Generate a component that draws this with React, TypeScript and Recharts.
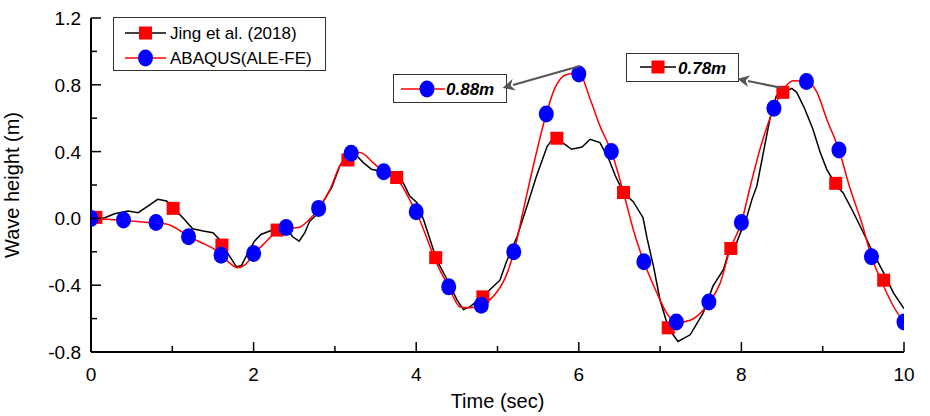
import React from 'react'
import {
  ComposedChart, Line, Scatter, XAxis, YAxis,
} from 'recharts'

// ─── Data ────────────────────────────────────────────────────────────────────
// Jing et al. (2018): dense black trace
const jingT = [
  0, 0.086, 0.17, 0.29, 0.455, 0.58, 0.7, 0.82, 0.93, 1.03, 1.15, 1.25, 1.38, 1.5, 1.58,
  1.69, 1.79, 1.85, 1.93, 2.01, 2.09, 2.2, 2.3, 2.42, 2.48, 2.56, 2.63, 2.69, 2.78, 2.86,
  2.96, 3.06, 3.15, 3.25, 3.35, 3.45, 3.55, 3.68, 3.84, 3.92, 4.01, 4.09, 4.17, 4.25, 4.38,
  4.5, 4.58, 4.66, 4.82, 5.03, 5.11, 5.24, 5.38, 5.48, 5.61, 5.67, 5.81, 5.91, 6.04, 6.14,
  6.26, 6.37, 6.45, 6.55, 6.67, 6.79, 6.84, 6.92, 7.0, 7.08, 7.12, 7.22, 7.37, 7.53, 7.65,
  7.78, 7.84, 7.94, 8.07, 8.13, 8.19, 8.27, 8.35, 8.43, 8.62, 8.68, 8.78, 8.88, 8.97, 9.05,
  9.17, 9.25, 9.38, 9.5, 9.62, 9.75, 9.87, 10,
]
const jingV = [
  0, -0.002, 0.004, 0.028, 0.044, 0.034, 0.074, 0.114, 0.104, 0.054, -0.006, -0.062, -0.076, -0.086, -0.126,
  -0.216, -0.29, -0.282, -0.206, -0.136, -0.096, -0.076, -0.066, -0.07, -0.11, -0.136, -0.086, -0.016, 0.024, 0.104,
  0.184, 0.314, 0.374, 0.384, 0.334, 0.294, 0.284, 0.254, 0.214, 0.134, 0.094, -0.006, -0.126, -0.246, -0.366,
  -0.486, -0.546, -0.53, -0.467, -0.37, -0.26, -0.11, 0.1, 0.254, 0.43, 0.47, 0.45, 0.414, 0.427, 0.474,
  0.454, 0.354, 0.254, 0.154, 0.1, 0.004, -0.12, -0.29, -0.49, -0.62, -0.67, -0.737, -0.697, -0.566, -0.406,
  -0.306, -0.206, -0.146, 0.014, 0.114, 0.194, 0.394, 0.594, 0.734, 0.779, 0.755, 0.655, 0.534, 0.394, 0.294,
  0.194, 0.154, 0.034, -0.086, -0.206, -0.326, -0.446, -0.54,
]
// Jing et al. (2018): square markers
const jingMarkT = [0.06, 1.01, 1.61, 2.29, 3.16, 3.76, 4.24, 4.82, 5.73, 6.55, 7.1, 7.87, 8.51, 9.16, 9.75]
const jingMarkV = [0.006, 0.06, -0.16, -0.07, 0.35, 0.245, -0.235, -0.47, 0.48, 0.155, -0.655, -0.18, 0.755, 0.21, -0.37]

// ABAQUS(ALE-FE): smooth red trace
const abaqusT = [
  0, 0.2, 0.4, 0.6, 0.8, 0.95, 1.07, 1.2, 1.36, 1.52, 1.6, 1.7, 1.8, 1.9, 2.0, 2.14, 2.26,
  2.4, 2.55, 2.68, 2.8, 2.94, 3.06, 3.2, 3.31, 3.47, 3.6, 3.8, 3.96, 4.0, 4.09, 4.25, 4.4,
  4.54, 4.66, 4.8, 4.95, 5.1, 5.2, 5.32, 5.44, 5.6, 5.7, 5.85, 6.0, 6.14, 6.26, 6.4, 6.55,
  6.67, 6.8, 6.96, 7.08, 7.2, 7.37, 7.6, 7.74, 7.86, 8.0, 8.11, 8.24, 8.4, 8.52, 8.64, 8.8,
  8.93, 9.05, 9.2, 9.34, 9.48, 9.6, 9.75, 9.87, 10,
]
const abaqusV = [
  0, -0.005, -0.012, -0.02, -0.028, -0.036, -0.066, -0.108, -0.146, -0.186, -0.22, -0.265, -0.295, -0.275, -0.215, -0.146, -0.09,
  -0.06, -0.055, -0.01, 0.06, 0.174, 0.314, 0.394, 0.394, 0.334, 0.276, 0.214, 0.074, 0.04, -0.066, -0.266, -0.41,
  -0.53, -0.535, -0.52, -0.466, -0.35, -0.205, 0.054, 0.314, 0.625, 0.774, 0.862, 0.87, 0.714, 0.554, 0.4, 0.154,
  -0.066, -0.26, -0.446, -0.566, -0.625, -0.61, -0.505, -0.386, -0.186, -0.025, 0.194, 0.434, 0.66, 0.774, 0.824, 0.82,
  0.755, 0.594, 0.41, 0.174, -0.026, -0.23, -0.406, -0.526, -0.625,
]
// ABAQUS(ALE-FE): circle markers every 0.4 s
const abaqusMarkT = [0, 0.4, 0.8, 1.2, 1.6, 2.0, 2.4, 2.8, 3.2, 3.6, 4.0, 4.4, 4.8, 5.2, 5.6, 6.0, 6.4, 6.8, 7.2, 7.6, 8.0, 8.4, 8.8, 9.2, 9.6, 10]
const abaqusMarkV = [0, -0.01, -0.025, -0.11, -0.22, -0.21, -0.055, 0.06, 0.39, 0.28, 0.04, -0.41, -0.52, -0.2, 0.625, 0.865, 0.4, -0.26, -0.62, -0.5, -0.025, 0.66, 0.82, 0.41, -0.23, -0.62]

const xTicks = [0, 1, 2, 3, 4, 5, 6, 7, 8, 9, 10]
const yTicks = [-0.8, -0.6, -0.4, -0.2, 0, 0.2, 0.4, 0.6, 0.8, 1.0, 1.2]

const zip = (ts: number[], vs: number[]) => ts.map((t, i) => ({ t, v: vs[i] }))
const jingLine = zip(jingT, jingV)
const jingMarks = zip(jingMarkT, jingMarkV)
const abaqusLine = zip(abaqusT, abaqusV)
const abaqusMarks = zip(abaqusMarkT, abaqusMarkV)

// ─── Layout ──────────────────────────────────────────────────────────────────
const W = 930
const H = 416
const PLOT_LEFT = 91
const PLOT_TOP = 18
const PLOT_RIGHT = 904
const PLOT_BOTTOM = 352
const FONT = '"Liberation Sans", Arial, sans-serif'

const RED = '#FF0000'
const BLUE = '#0000FF'

// ─── Markers ─────────────────────────────────────────────────────────────────
const Square = (props: any) => {
  const { cx, cy } = props
  if (cx == null || cy == null) return null
  return <rect x={cx - 6.5} y={cy - 6.5} width={13} height={13} fill={RED} />
}
const Dot = (props: any) => {
  const { cx, cy } = props
  if (cx == null || cy == null) return null
  return <ellipse cx={cx} cy={cy} rx={7.5} ry={8.5} fill={BLUE} />
}

// ─── Ticks (inward, with minors) ─────────────────────────────────────────────
const XTick = (props: any) => {
  const { x, payload, index } = props
  const major = index % 2 === 0
  return (
    <g>
      <line x1={x} x2={x} y1={PLOT_BOTTOM} y2={PLOT_BOTTOM - (major ? 10 : 6)} stroke="#000" strokeWidth={1.5} />
      {major && (
        <text x={x} y={PLOT_BOTTOM + 29} textAnchor="middle" fontFamily={FONT} fontSize={19} fill="#000">
          {payload.value}
        </text>
      )}
    </g>
  )
}
const YTick = (props: any) => {
  const { y, index } = props
  const major = index % 2 === 0
  return (
    <g>
      <line x1={PLOT_LEFT} x2={PLOT_LEFT + (major ? 10 : 6)} y1={y} y2={y} stroke="#000" strokeWidth={1.5} />
      {major && (
        <text x={PLOT_LEFT - 10} y={y + 7} textAnchor="end" fontFamily={FONT} fontSize={19} fill="#000">
          {yTicks[index].toFixed(1)}
        </text>
      )}
    </g>
  )
}

// ─── Legend + peak annotations ───────────────────────────────────────────────
const Overlay = () => (
  <svg width={W} height={H} style={{ position: 'absolute', left: 0, top: 0, pointerEvents: 'none' }}>
    <defs>
      <marker id="arrowHead" viewBox="0 0 10 10" refX={1} refY={5} markerWidth={6} markerHeight={6} orient="auto">
        <path d="M0,0 L10,5 L0,10 L3,5 z" fill="#555" />
      </marker>
    </defs>
    {/* legend */}
    <g transform="translate(113,17)">
      <rect x={0.5} y={0.5} width={212} height={53} fill="#fff" stroke="#333" strokeWidth={1} />
      <line x1={12} x2={53} y1={16} y2={16} stroke="#000" strokeWidth={1.5} />
      <rect x={26} y={9.5} width={13} height={13} fill={RED} />
      <text x={57} y={22} fontFamily={FONT} fontSize={17} fill="#000">Jing et al. (2018)</text>
      <line x1={12} x2={53} y1={41} y2={41} stroke={RED} strokeWidth={1.5} />
      <ellipse cx={32.5} cy={41} rx={7.5} ry={8.5} fill={BLUE} />
      <text x={57} y={47} fontFamily={FONT} fontSize={17} fill="#000">ABAQUS(ALE-FE)</text>
    </g>
    {/* 0.88m box */}
    <rect x={393.5} y={74.5} width={113} height={28} fill="#fff" stroke="#333" strokeWidth={1} />
    <line x1={401} x2={445} y1={89} y2={89} stroke={RED} strokeWidth={1.5} />
    <ellipse cx={427} cy={89} rx={7.5} ry={8.5} fill={BLUE} />
    <text x={446} y={95} fontFamily={FONT} fontSize={17} fontWeight="bold" fontStyle="italic" fill="#000">0.88m</text>
    <line x1={580} y1={66} x2={513} y2={85} stroke="#555" strokeWidth={2} markerEnd="url(#arrowHead)" />
    {/* 0.78m box */}
    <rect x={626.5} y={53.5} width={112} height={28} fill="#fff" stroke="#333" strokeWidth={1} />
    <line x1={640} x2={676} y1={67} y2={67} stroke="#000" strokeWidth={1.5} />
    <rect x={651.5} y={60.5} width={13} height={13} fill={RED} />
    <text x={678} y={74} fontFamily={FONT} fontSize={17} fontWeight="bold" fontStyle="italic" fill="#000">0.78m</text>
    <line x1={782} y1={88} x2={748} y2={81} stroke="#555" strokeWidth={2} markerEnd="url(#arrowHead)" />
  </svg>
)

export default function App() {
  return (
    <div style={{ position: 'absolute', left: 0, top: 0, width: W, height: H, background: '#fff' }}>
      <ComposedChart
        width={W}
        height={H}
        margin={{ top: PLOT_TOP, right: W - PLOT_RIGHT, bottom: 0, left: 0 }}
      >
        <XAxis
          type="number"
          dataKey="t"
          domain={[0, 10]}
          ticks={xTicks}
          interval={0}
          height={H - PLOT_BOTTOM}
          axisLine={{ stroke: '#000', strokeWidth: 2 }}
          tickLine={false}
          tick={<XTick />}
          allowDataOverflow
          label={{ value: 'Time (sec)', position: 'insideBottom', offset: 8, fontFamily: FONT, fontSize: 20, fill: '#000' }}
        />
        <YAxis
          type="number"
          dataKey="v"
          domain={[-0.8, 1.2]}
          ticks={yTicks}
          interval={0}
          width={PLOT_LEFT}
          axisLine={{ stroke: '#000', strokeWidth: 2 }}
          tickLine={false}
          tick={<YTick />}
          allowDataOverflow
          label={{ value: 'Wave height (m)', angle: -90, position: 'insideLeft', offset: 12, fontFamily: FONT, fontSize: 20, fill: '#000', style: { textAnchor: 'middle' } }}
        />
        <Line data={jingLine} dataKey="v" type="linear" stroke="#000" strokeWidth={1.5} dot={false} isAnimationActive={false} />
        <Line data={abaqusLine} dataKey="v" type="monotone" stroke={RED} strokeWidth={1.5} dot={false} isAnimationActive={false} />
        <Scatter data={jingMarks} dataKey="v" shape={<Square />} isAnimationActive={false} />
        <Scatter data={abaqusMarks} dataKey="v" shape={<Dot />} isAnimationActive={false} />
      </ComposedChart>
      <Overlay />
    </div>
  )
}
